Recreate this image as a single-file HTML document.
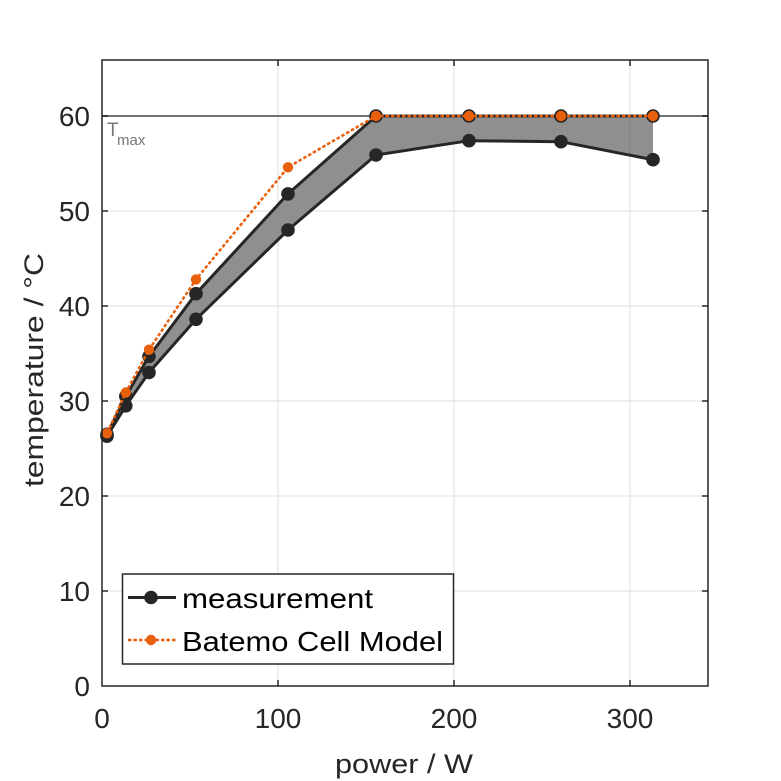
<!DOCTYPE html>
<html><head><meta charset="utf-8"><style>
html,body{margin:0;padding:0;background:#fff;}
svg{display:block;}
text{font-family:"Liberation Sans",Arial,sans-serif;fill:#262626;}
</style></head><body>
<svg width="781" height="781" viewBox="0 0 781 781" xmlns="http://www.w3.org/2000/svg">
<rect x="0" y="0" width="781" height="781" fill="#fff"/>
<!-- grid -->
<g stroke="#dedede" stroke-width="1">
<line x1="278" y1="60" x2="278" y2="686"/>
<line x1="454" y1="60" x2="454" y2="686"/>
<line x1="630" y1="60" x2="630" y2="686"/>
<line x1="102" y1="591" x2="708" y2="591"/>
<line x1="102" y1="496" x2="708" y2="496"/>
<line x1="102" y1="401" x2="708" y2="401"/>
<line x1="102" y1="306" x2="708" y2="306"/>
<line x1="102" y1="211" x2="708" y2="211"/>
</g>
<!-- fill -->
<polygon fill="#8f8f8f" points="107,434.3 125.8,396.3 149,356.4 196,293.7 288,193.9 376,116 469,116 561,116 653,116 653,159.7 561,141.7 469,140.7 376,155 288,230 196,319.3 149,372.5 125.8,405.8 107,436.2"/>
<g stroke="#000" stroke-opacity="0.08" stroke-width="1">
<line x1="630" y1="116" x2="630" y2="157"/>
</g>
<!-- Tmax line -->
<line x1="102" y1="116" x2="708" y2="116" stroke="#727272" stroke-width="2"/>
<text x="107" y="136" font-size="19" style="fill:#777">T</text>
<text x="117" y="145" font-size="15" style="fill:#777">max</text>
<!-- measurement lines -->
<g fill="none" stroke="#262626" stroke-width="3" stroke-linejoin="round">
<polyline points="107,434.3 125.8,396.3 149,356.4 196,293.7 288,193.9 376,116 469,116 561,116 653,116"/>
<polyline points="107,436.2 125.8,405.8 149,372.5 196,319.3 288,230 376,155 469,140.7 561,141.7 653,159.7"/>
</g>
<g fill="#262626">
<circle cx="107" cy="434.3" r="6.8"/><circle cx="125.8" cy="396.3" r="6.8"/><circle cx="149" cy="356.4" r="6.8"/><circle cx="196" cy="293.7" r="6.8"/><circle cx="288" cy="193.9" r="6.8"/><circle cx="376" cy="116" r="6.8"/><circle cx="469" cy="116" r="6.8"/><circle cx="561" cy="116" r="6.8"/><circle cx="653" cy="116" r="6.8"/>
<circle cx="107" cy="436.2" r="6.8"/><circle cx="125.8" cy="405.8" r="6.8"/><circle cx="149" cy="372.5" r="6.8"/><circle cx="196" cy="319.3" r="6.8"/><circle cx="288" cy="230" r="6.8"/><circle cx="376" cy="155" r="6.8"/><circle cx="469" cy="140.7" r="6.8"/><circle cx="561" cy="141.7" r="6.8"/><circle cx="653" cy="159.7" r="6.8"/>
</g>
<!-- model -->
<polyline fill="none" stroke="#e8600c" stroke-width="2.5" stroke-dasharray="3.5,2" points="107,433.3 125.8,392.5 149,349.7 196,279.4 288,167.3 376,116 469,116 561,116 653,116"/>
<g fill="#e8600c">
<circle cx="107" cy="433.3" r="5.2"/><circle cx="125.8" cy="392.5" r="5.2"/><circle cx="149" cy="349.7" r="5.2"/><circle cx="196" cy="279.4" r="5.2"/><circle cx="288" cy="167.3" r="5.2"/><circle cx="376" cy="116" r="5.2"/><circle cx="469" cy="116" r="5.2"/><circle cx="561" cy="116" r="5.2"/><circle cx="653" cy="116" r="5.2"/>
</g>
<!-- axes box -->
<rect x="102" y="60" width="606" height="626" fill="none" stroke="#262626" stroke-width="1.5"/>
<g stroke="#262626" stroke-width="1.5">
<line x1="278" y1="686" x2="278" y2="680"/><line x1="454" y1="686" x2="454" y2="680"/><line x1="630" y1="686" x2="630" y2="680"/>
<line x1="278" y1="60" x2="278" y2="66"/><line x1="454" y1="60" x2="454" y2="66"/><line x1="630" y1="60" x2="630" y2="66"/>
<line x1="102" y1="591" x2="108" y2="591"/><line x1="102" y1="496" x2="108" y2="496"/><line x1="102" y1="401" x2="108" y2="401"/><line x1="102" y1="306" x2="108" y2="306"/><line x1="102" y1="211" x2="108" y2="211"/><line x1="102" y1="116" x2="108" y2="116"/>
<line x1="708" y1="591" x2="702" y2="591"/><line x1="708" y1="496" x2="702" y2="496"/><line x1="708" y1="401" x2="702" y2="401"/><line x1="708" y1="306" x2="702" y2="306"/><line x1="708" y1="211" x2="702" y2="211"/><line x1="708" y1="116" x2="702" y2="116"/>
</g>
<!-- tick labels -->
<g font-size="28" text-anchor="end">
<text x="90" y="696">0</text>
<text x="90" y="601">10</text>
<text x="90" y="506">20</text>
<text x="90" y="411">30</text>
<text x="90" y="316">40</text>
<text x="90" y="221">50</text>
<text x="90" y="126">60</text>
</g>
<g font-size="28" text-anchor="middle">
<text x="102" y="728">0</text>
<text x="278" y="728">100</text>
<text x="454" y="728">200</text>
<text x="630" y="728">300</text>
</g>
<text x="404" y="773" font-size="27" text-anchor="middle" textLength="138" lengthAdjust="spacingAndGlyphs">power / W</text>
<text transform="translate(43,370) rotate(-90)" font-size="27" text-anchor="middle" textLength="234" lengthAdjust="spacingAndGlyphs">temperature / °C</text>
<!-- legend -->
<rect x="122.5" y="574" width="331" height="90" fill="#fff" stroke="#262626" stroke-width="1.5"/>
<line x1="128" y1="597.5" x2="176" y2="597.5" stroke="#262626" stroke-width="3"/>
<circle cx="151" cy="597.5" r="6.8" fill="#262626"/>
<line x1="128" y1="640" x2="176" y2="640" stroke="#e8600c" stroke-width="2.5" stroke-dasharray="3.5,2"/>
<circle cx="151" cy="640" r="5.2" fill="#e8600c"/>
<text x="182" y="608" font-size="28" style="fill:#000" textLength="191" lengthAdjust="spacingAndGlyphs">measurement</text>
<text x="182" y="651" font-size="28" style="fill:#000" textLength="261" lengthAdjust="spacingAndGlyphs">Batemo Cell Model</text>
</svg>
</body></html>
